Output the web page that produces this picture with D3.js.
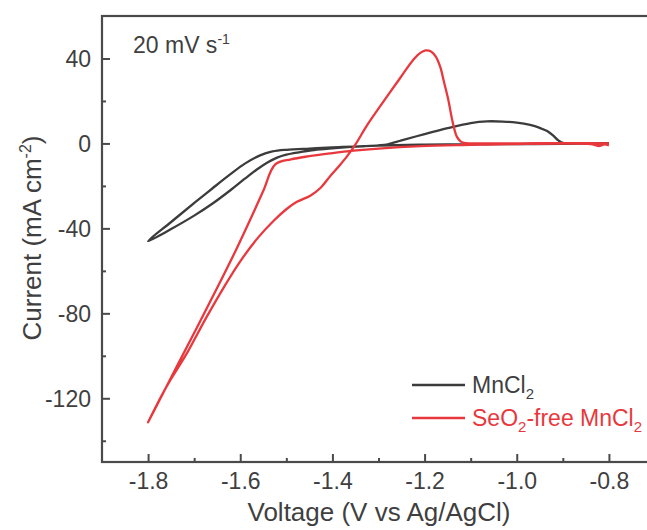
<!DOCTYPE html>
<html>
<head>
<meta charset="utf-8">
<script src="https://cdn.jsdelivr.net/npm/d3@7/dist/d3.min.js"></script>
<style>
  html, body { margin: 0; padding: 0; background: #fff; }
  svg { display: block; font-family: "Liberation Sans", Arial, sans-serif; }
  .tick-label { fill: #3f3f3f; font-size: 23px; }
  .title { fill: #3f3f3f; font-size: 26px; }
</style>
</head>
<body>
<svg id="chart" width="647" height="530"></svg>
<script>
// ---- data ----
// MnCl2: scan from -0.8 V down to -1.8 V and back
const mnVolt = [-0.80, -0.85, -0.90, -1.00, -1.10, -1.20, -1.30, -1.40, -1.45, -1.50, -1.53, -1.557, -1.59, -1.622, -1.66, -1.695, -1.75, -1.80,
  -1.75, -1.70, -1.66, -1.62, -1.59, -1.564, -1.54, -1.52, -1.50, -1.47, -1.44, -1.40, -1.35, -1.30, -1.28,
  -1.25, -1.20, -1.15, -1.10, -1.065, -1.03, -1.00, -0.971, -0.95, -0.934, -0.92, -0.909, -0.898, -0.85, -0.80];
const mnCurr = [-0.1, -0.1, -0.2, -0.3, -0.4, -0.6, -1.0, -1.9, -2.4, -3.0, -3.8, -5.6, -9.5, -14.6, -21.1, -27.2, -37.0, -46.0,
  -40.3, -34.0, -28.3, -21.8, -16.6, -12.3, -8.9, -6.7, -5.3, -4.1, -3.1, -2.3, -1.5, -0.9, -0.4,
  1.4, 4.4, 7.2, 9.6, 10.4, 10.3, 9.8, 8.7, 7.3, 5.8, 3.5, 1.3, 0.2, 0.1, 0.1];

// SeO2-free MnCl2
const seVolt = [-0.80, -0.81, -0.82, -0.84, -0.90, -1.00, -1.065, -1.10, -1.209, -1.30, -1.354, -1.405, -1.45, -1.49, -1.524,
  -1.55, -1.575, -1.61, -1.65, -1.69, -1.73, -1.765, -1.80,
  -1.76, -1.715, -1.675, -1.635, -1.60, -1.56, -1.528, -1.50, -1.477, -1.448, -1.426, -1.405, -1.385, -1.368, -1.35,
  -1.325, -1.289, -1.253, -1.224, -1.21, -1.198, -1.186, -1.176, -1.166, -1.158, -1.149, -1.139, -1.130, -1.122, -1.115,
  -1.05, -0.95, -0.85, -0.80];
const seCurr = [-1.0, -0.4, -1.2, -0.3, -0.1, -0.3, -0.5, -0.7, -1.3, -2.4, -3.4, -4.7, -6.0, -7.5, -9.9,
  -22.3, -34.3, -50.5, -68.0, -85.0, -101.8, -116.6, -131.3,
  -114.5, -98.5, -82.5, -67.5, -55.5, -44.0, -36.5, -31.0, -27.5, -24.6, -21.0, -15.4, -10.5, -6.0, -0.5,
  8.5, 19.8, 30.8, 39.5, 42.5, 43.8, 43.3, 41.0, 36.0, 29.0, 21.0, 10.0, 3.2, 1.0, 0.3,
  0.0, 0.1, 0.1, 0.0];

const xTicks = [-1.8, -1.6, -1.4, -1.2, -1.0, -0.8];
const xMinor = [-1.7, -1.5, -1.3, -1.1, -0.9];
const yTicks = [-120, -80, -40, 0, 40];
const yMinor = [-140, -100, -60, -20, 20];

const seriesNames = ["MnCl2", "SeO2-free MnCl2"];
const seriesColors = ["#3c3c3c", "#e8383d"];

// ---- layout ----
const svg = d3.select("#chart");
const plotL = 102, plotT = 16, plotR = 655, plotB = 462;
const axisColor = "#4a4a4a";

const x = d3.scaleLinear().domain([-1.9, -0.7]).range([plotL, plotR]);
const y = d3.scaleLinear().domain([-150, 60]).range([plotB, plotT]);

// plain hyphen for negatives, as in the original
const hyph = (f) => (d) => f(d).replace("\u2212", "-");

const clip = svg.append("defs").append("clipPath").attr("id", "plot-clip");
clip.append("rect").attr("x", plotL).attr("y", plotT).attr("width", plotR - plotL).attr("height", plotB - plotT);

// ---- curves ----
const line = d3.line()
  .x((d) => x(d[0]))
  .y((d) => y(d[1]))
  .curve(d3.curveCatmullRom.alpha(0.5));

const curves = [
  d3.zip(mnVolt, mnCurr),
  d3.zip(seVolt, seCurr),
];

svg.append("g").attr("clip-path", "url(#plot-clip)")
  .selectAll("path")
  .data(curves)
  .join("path")
  .attr("d", line)
  .attr("fill", "none")
  .attr("stroke", (d, i) => seriesColors[i])
  .attr("stroke-width", 2.3)
  .attr("stroke-linejoin", "round");

// ---- axes (ticks point inward) ----
const xAxis = svg.append("g").attr("transform", `translate(0,${plotB})`)
  .call(d3.axisBottom(x).tickValues(xTicks).tickSize(-8).tickPadding(10).tickFormat(hyph(d3.format(".1f"))));
const xMinorAxis = svg.append("g").attr("transform", `translate(0,${plotB})`)
  .call(d3.axisBottom(x).tickValues(xMinor).tickSize(-4).tickFormat(""));
const yAxis = svg.append("g").attr("transform", `translate(${plotL},0)`)
  .call(d3.axisLeft(y).tickValues(yTicks).tickSize(-8).tickPadding(11).tickFormat(hyph(d3.format("d"))));
const yMinorAxis = svg.append("g").attr("transform", `translate(${plotL},0)`)
  .call(d3.axisLeft(y).tickValues(yMinor).tickSize(-4).tickFormat(""));

for (const g of [xAxis, xMinorAxis, yAxis, yMinorAxis]) {
  g.select(".domain").remove();
  g.selectAll("line").attr("stroke", axisColor).attr("stroke-width", 2);
  g.selectAll("text").attr("class", "tick-label").attr("font-size", null).attr("font-family", null);
}
yAxis.selectAll("text").attr("dy", "0.36em");
xAxis.selectAll("text").attr("dy", "0.72em");

// frame
svg.append("rect")
  .attr("x", plotL).attr("y", plotT)
  .attr("width", plotR - plotL).attr("height", plotB - plotT)
  .attr("fill", "none").attr("stroke", axisColor).attr("stroke-width", 2.2);

// ---- titles ----
svg.append("text").attr("class", "title")
  .attr("x", (251 + 507) / 2).attr("y", 521)
  .attr("text-anchor", "middle")
  .text("Voltage (V vs Ag/AgCl)");

const yt = svg.append("text").attr("class", "title")
  .attr("transform", "translate(41,238) rotate(-90)")
  .attr("text-anchor", "middle");
yt.append("tspan").text("Current (mA cm");
yt.append("tspan").attr("font-size", 16).attr("dy", -10).text("-2");
yt.append("tspan").attr("dy", 10).text(")");

const rate = svg.append("text").attr("class", "tick-label").attr("x", 133).attr("y", 53);
rate.append("tspan").text("20 mV s");
rate.append("tspan").attr("font-size", 14).attr("dy", -9).text("-1");

// ---- legend ----
const legendRows = [
  [["MnCl", 0], ["2", 1]],
  [["SeO", 0], ["2", 1], ["-free MnCl", 0], ["2", 1]],
];
const lg = svg.append("g");
legendRows.forEach((parts, i) => {
  const yy = 385 + i * 33;
  lg.append("line")
    .attr("x1", 412).attr("x2", 465).attr("y1", yy).attr("y2", yy)
    .attr("stroke", seriesColors[i]).attr("stroke-width", 2.5);
  const t = lg.append("text")
    .attr("x", 472).attr("y", yy + 8)
    .attr("font-size", 23)
    .attr("fill", i === 0 ? "#3f3f3f" : seriesColors[i])
    .attr("aria-label", seriesNames[i]);
  let shifted = false;
  for (const [s, sub] of parts) {
    const ts = t.append("tspan").text(s);
    if (sub && !shifted) ts.attr("font-size", 15).attr("dy", 6), (shifted = true);
    else if (!sub && shifted) ts.attr("dy", -6), (shifted = false);
    else if (sub) ts.attr("font-size", 15);
  }
});
</script>
</body>
</html>
